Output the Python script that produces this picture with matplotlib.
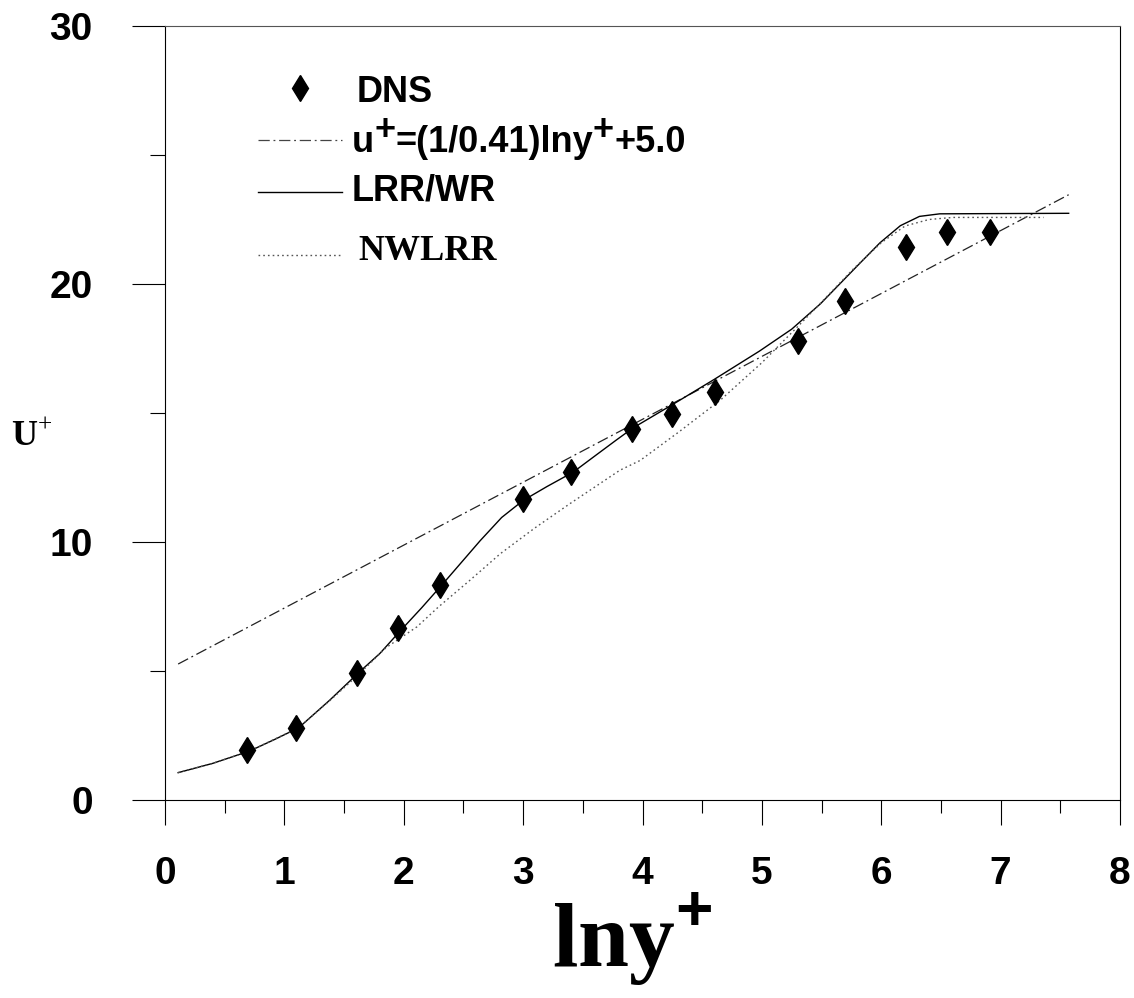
import matplotlib
matplotlib.use('Agg')
import matplotlib.pyplot as plt
from matplotlib.ticker import MultipleLocator


# DNS mean velocity profile
dns_lny = [0.69, 1.10, 1.61, 1.95, 2.30, 3.00, 3.40, 3.91, 4.25, 4.61, 5.30, 5.70, 6.21, 6.55, 6.91]
dns_u = [1.94, 2.80, 4.93, 6.65, 8.32, 11.65, 12.71, 14.39, 14.98, 15.81, 17.80, 19.36, 21.45, 22.00, 22.00]

# log law, straight line between its end points
loglaw_lny = [0.11, 7.57]
loglaw_u = [5.27, 23.46]

# LRR/WR model
lrr_lny = [0.11, 0.40, 0.71, 0.92, 1.12, 1.38, 1.63, 1.80, 1.97, 2.15, 2.33, 2.50, 2.64, 2.82,
           3.00, 3.20, 3.42, 3.62, 3.78, 3.92, 4.26, 4.60, 4.98, 5.25, 5.49, 5.82, 5.99, 6.16,
           6.32, 6.49, 7.57]
lrr_u = [1.06, 1.42, 1.90, 2.35, 2.80, 3.87, 4.97, 5.68, 6.55, 7.45, 8.39, 9.30, 10.05, 10.95,
         11.61, 12.15, 12.71, 13.40, 13.95, 14.42, 15.35, 16.30, 17.40, 18.25, 19.23, 20.80,
         21.60, 22.26, 22.62, 22.72, 22.74]

# NWLRR model
nwlrr_lny = [0.11, 0.40, 0.71, 1.12, 1.38, 1.63, 1.85, 2.11, 2.29, 2.55, 2.81, 3.10, 3.39,
             3.81, 3.98, 4.30, 4.65, 5.00, 5.29, 5.50, 5.77, 6.00, 6.20, 6.40, 6.60, 7.36]
nwlrr_u = [1.06, 1.42, 1.90, 2.80, 3.85, 4.90, 5.90, 6.71, 7.48, 8.50, 9.55, 10.55, 11.48,
           12.78, 13.16, 14.25, 15.49, 16.95, 18.30, 19.30, 20.60, 21.60, 22.25, 22.50, 22.58, 22.58]

x_ticks = [0, 1, 2, 3, 4, 5, 6, 7, 8]
y_ticks = [0, 10, 20, 30]

plt.rcParams['font.family'] = ['Liberation Sans', 'DejaVu Sans']
plt.rcParams['mathtext.fontset'] = 'custom'
plt.rcParams['mathtext.rm'] = 'Liberation Serif'
plt.rcParams['mathtext.sf'] = 'Liberation Sans:bold'
plt.rcParams['mathtext.bf'] = 'Liberation Serif:bold'

loglaw_style = (0, (9, 3, 1.5, 3))
nwlrr_style = (0, (1.2, 2.2))

fig = plt.figure(figsize=(11.34, 9.98), dpi=100)
ax = fig.add_axes([165 / 1134, 1 - 800 / 998, 955 / 1134, 774 / 998])

ax.plot(loglaw_lny, loglaw_u, color='#222222', lw=0.9, linestyle=loglaw_style)
ax.plot(lrr_lny, lrr_u, color='black', lw=1.0)
ax.plot(nwlrr_lny, nwlrr_u, color='#555555', lw=1.0, linestyle=nwlrr_style)
ax.plot(dns_lny, dns_u, linestyle='none', marker='d', markersize=13,
        color='black', zorder=5)

ax.set_xlim(0, 8)
ax.set_ylim(0, 30)
ax.set_xticks(x_ticks)
ax.set_yticks(y_ticks)
ax.xaxis.set_minor_locator(MultipleLocator(0.5))
ax.yaxis.set_minor_locator(MultipleLocator(5))
ax.tick_params(axis='x', which='major', direction='out', length=18, width=0.8,
               pad=22, labelsize=28)
ax.tick_params(axis='x', which='minor', direction='out', length=9, width=0.8)
ax.tick_params(axis='y', which='major', direction='out', length=24, width=0.8,
               pad=28, labelsize=28)
ax.tick_params(axis='y', which='minor', direction='out', length=11, width=0.8)
for lab in ax.get_xticklabels() + ax.get_yticklabels():
    lab.set_fontweight('bold')
for side in ['left', 'bottom', 'right']:
    ax.spines[side].set_linewidth(0.8)
ax.spines['top'].set_linewidth(0.8)
ax.spines['top'].set_color('#555555')

tr = ax.transAxes
leg_font = dict(fontsize=26, fontweight='bold')


def chain_text(x0, y0, pieces):
    # pieces of (text, rise in points), laid out left to right on one baseline
    prev = ax.text(x0, y0, pieces[0][0], transform=tr, va='baseline', ha='left', **leg_font)
    for s, rise in pieces[1:]:
        prev = ax.annotate(s, xy=(1, y0), xycoords=(prev, 'axes fraction'),
                           xytext=(0, rise), textcoords='offset points',
                           va='baseline', ha='left', **leg_font)


# hand-placed legend in axes fraction
ax.plot([0.1414], [0.9199], transform=tr, marker='d', markersize=13, color='black',
        linestyle='none', clip_on=False)
ax.text(0.2010, 0.9018, 'DNS', transform=tr, va='baseline', ha='left', **leg_font)

ax.plot([0.0974, 0.1853], [0.8527, 0.8527], transform=tr, color='#444444', lw=0.9,
        linestyle=loglaw_style)
chain_text(0.1958, 0.837, [('u', 0), ('+', 9), ('=(1/0.41)lny', 0), ('+', 9), ('+5.0', 0)])

ax.plot([0.0974, 0.1853], [0.7855, 0.7855], transform=tr, color='black', lw=1.0)
ax.text(0.1958, 0.775, 'LRR/WR', transform=tr, va='baseline', ha='left', **leg_font)

ax.plot([0.0974, 0.1853], [0.7041, 0.7041], transform=tr, color='#555555', lw=1.0,
        linestyle=nwlrr_style)
ax.text(0.2021, 0.6977, 'NWLRR', transform=tr, fontsize=26, va='baseline', ha='left',
        family='Liberation Serif', fontweight='bold')

fig.text(32 / 1134, 1 - 437 / 998, r'$\mathbf{U}^{\mathrm{+}}$', fontsize=26,
         ha='center', va='center')
fig.text(0.557, 1 - 940 / 998, r'$\mathbf{lny}^{\mathsf{+}}$', fontsize=66,
         ha='center', va='center')

fig.savefig('out.png', dpi=100)
